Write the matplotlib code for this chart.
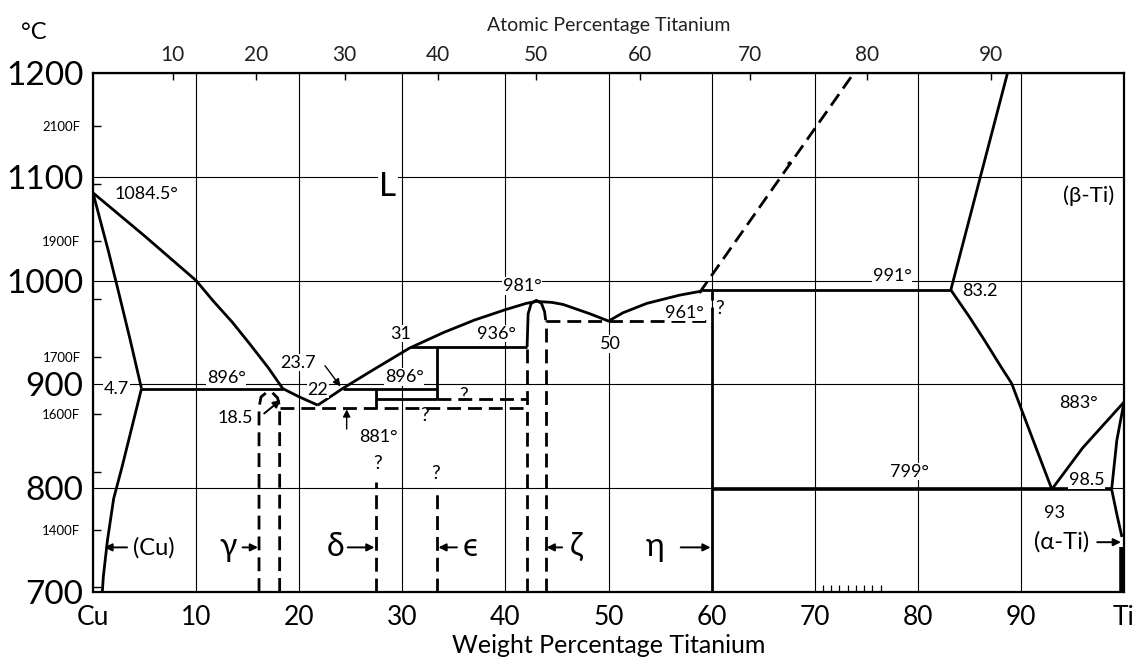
import numpy as np
import matplotlib
matplotlib.use("Agg")
import matplotlib.pyplot as plt

plt.rcParams['font.family'] = ['Lato', 'DejaVu Sans']

# axes ticks
temp_ticks = [700, 800, 900, 1000, 1100, 1200]
f_ticks = [1300, 1400, 1500, 1600, 1700, 1800, 1900, 2000, 2100]
f_labels = ['', '1400F', '', '1600F', '1700F', '', '1900F', '', '2100F']
wt_ticks = [0, 10, 20, 30, 40, 50, 60, 70, 80, 90, 100]
wt_labels = ['Cu', '10', '20', '30', '40', '50', '60', '70', '80', '90', 'Ti']
at_ticks = [10, 20, 30, 40, 50, 60, 70, 80, 90]
small_marks_wt = [70.8, 71.6, 72.4, 73.2, 74.0, 74.8, 75.6, 76.4]

# solid phase boundaries (wt% Ti, deg C)
cu_liq_wt = [0, 5, 10, 11.6, 13.5, 15.2, 17.0, 18.4, 20.0, 21.8]
cu_liq_t = [1084.5, 1043, 1000, 981, 960, 939, 916, 896, 888, 880]
cu_sol_wt = [0, 0.7, 1.5, 2.5, 3.6, 4.7]
cu_sol_t = [1084.5, 1058, 1028, 988, 943, 896]
cu_solvus_wt = [4.7, 3.8, 2.8, 2.0, 1.4, 1.0, 0.9]
cu_solvus_t = [896, 860, 820, 790, 750, 715, 700]
mid_liq_wt = [21.8, 24.2, 27.0, 30.7, 34.0, 37.0, 40.0, 42.0, 43.0, 44.5, 45.6, 48.2, 50.0,
              51.4, 53.7, 56.9, 59.1]
mid_liq_t = [880, 896, 913, 935, 950, 962, 972, 978, 980, 979, 977, 968, 961,
             969, 978, 986, 990]
beta_liq_wt = [83.2, 88.7]
beta_liq_t = [991, 1200]
beta_transus_wt = [83.2, 85.0, 86.5, 88.0, 89.1, 90.2, 91.5, 93.0]
beta_transus_t = [991, 965, 942, 918, 901, 872, 838, 799]
alpha_up_wt = [93.0, 96.0, 100.0]
alpha_up_t = [799, 839, 883]
alpha_solvus_wt = [100.0, 99.3, 98.8, 99.3, 99.8]
alpha_solvus_t = [883, 846, 799, 775, 753]
zeta_arc_wt = [42.1, 42.2, 42.5, 43.0, 43.5, 43.8, 43.9]
zeta_arc_t = [936, 968, 978, 981, 978, 970, 962]

# horizontal / vertical solid segments
seg_896a = ([4.7, 18.4], [896, 896])
seg_896b = ([24.2, 33.4], [896, 896])
seg_936 = ([30.7, 42.1], [936, 936])
seg_886 = ([27.4, 33.4], [886, 886])
seg_delta = ([27.4, 27.4], [877, 896])
seg_eps = ([33.4, 33.4], [886, 936])
seg_991 = ([59.1, 83.2], [991, 991])
seg_799 = ([60.0, 98.8], [799, 799])
seg_eta = ([60.0, 60.0], [700, 961])
seg_ti = ([99.85, 99.85], [700, 743])

# dashed phase boundaries
gamma_wt = [16.1, 16.1, 16.3, 16.8, 17.4, 17.9, 18.1, 18.1]
gamma_t = [700, 878, 888, 892, 892, 887, 878, 700]
dash_877 = ([18.1, 42.1], [877, 877])
dash_886 = ([33.4, 42.1], [886, 886])
dash_961 = ([43.9, 60.0], [961, 961])
dash_eta_top = ([60.0, 60.0], [961, 990])
dash_delta = ([27.4, 27.4], [700, 806])
dash_eps = ([33.4, 33.4], [700, 795])
dash_zeta_l = ([42.1, 42.1], [700, 936])
dash_zeta_r = ([43.9, 43.9], [700, 962])
dash_liq = ([58.8, 73.8], [988, 1200])


def wt2at(w):
    w = np.asarray(w, dtype=float)
    a = w / 47.87
    c = (100 - w) / 63.55
    return 100 * a / (a + c)


def at2wt(a):
    a = np.asarray(a, dtype=float)
    m = a * 47.87
    return 100 * m / (m + (100 - a) * 63.55)


def f2c(f):
    return (np.asarray(f, dtype=float) - 32) * 5 / 9


fig = plt.figure(figsize=(11.43, 6.67), dpi=100)
ax = fig.add_axes([0.0814, 0.1124, 0.902, 0.7782])
ax.set_xlim(0, 100)
ax.set_ylim(700, 1200)

for s in ax.spines.values():
    s.set_linewidth(1.6)

ax.set_xticks(wt_ticks)
ax.set_xticklabels(wt_labels, fontsize=19)
ax.set_yticks(temp_ticks)
ax.set_yticklabels([str(t) for t in temp_ticks], fontsize=24)
ax.tick_params(axis='both', which='major', length=0)
ax.tick_params(axis='x', pad=9)
ax.tick_params(axis='y', pad=7)
ax.set_yticks(f2c(f_ticks), minor=True)
ax.set_yticklabels(f_labels, minor=True, fontsize=9.5)
ax.tick_params(axis='y', which='minor', direction='in', length=6, width=1, pad=9)
ax.grid(True, which='major', color='k', lw=0.8)
ax.set_xlabel('Weight Percentage Titanium', fontsize=18, labelpad=3)

sec = ax.secondary_xaxis('top', functions=(wt2at, at2wt))
sec.set_xticks(at_ticks)
sec.set_xticklabels([str(a) for a in at_ticks], fontsize=15, color='#222222')
sec.tick_params(direction='in', length=5, width=1, pad=6)
sec.set_xlabel('Atomic Percentage Titanium', fontsize=14, labelpad=10, color='#222222')
fig.text(0.018, 0.952, '°C', fontsize=17, ha='left', va='center')

ax.vlines(small_marks_wt, 700, 707, color='k', lw=0.9)

solid = dict(color='k', lw=2.0, solid_capstyle='butt')
ax.plot(cu_liq_wt, cu_liq_t, **solid)
ax.plot(cu_sol_wt, cu_sol_t, **solid)
ax.plot(cu_solvus_wt, cu_solvus_t, **solid)
ax.plot(mid_liq_wt, mid_liq_t, **solid)
ax.plot(beta_liq_wt, beta_liq_t, **solid)
ax.plot(beta_transus_wt, beta_transus_t, **solid)
ax.plot(alpha_up_wt, alpha_up_t, **solid)
ax.plot(alpha_solvus_wt, alpha_solvus_t, **solid)
ax.plot(zeta_arc_wt, zeta_arc_t, **solid)
for xs, ys in [seg_896a, seg_896b, seg_936, seg_886, seg_delta, seg_eps, seg_991, seg_eta]:
    ax.plot(xs, ys, **solid)
ax.plot(*seg_799, color='k', lw=2.6, solid_capstyle='butt')
ax.plot(*seg_ti, color='k', lw=4, solid_capstyle='butt')

dashed = dict(color='k', lw=2.0, dashes=(5, 2.5))
ax.plot(gamma_wt, gamma_t, **dashed)
for xs, ys in [dash_877, dash_886, dash_961, dash_eta_top, dash_delta, dash_eps,
               dash_zeta_l, dash_zeta_r, dash_liq]:
    ax.plot(xs, ys, **dashed)
ax.plot([67.5], [1113], 'k.', ms=4)

# labels on the diagram
fs = 13
labels = [
    ('1084.5°', 5.2, 1083), ('4.7', 2.3, 896), ('896°', 12.9, 906), ('18.5', 13.8, 868),
    ('23.7', 19.9, 921), ('22', 21.8, 895), ('896°', 30.2, 907), ('31', 29.8, 949),
    ('936°', 39.1, 949), ('881°', 27.7, 849), ('981°', 41.6, 995), ('50', 50.2, 939),
    ('961°', 57.4, 969), ('991°', 77.5, 1004), ('83.2', 86.0, 990), ('883°', 95.6, 882),
    ('799°', 79.2, 816), ('98.5', 96.4, 808), ('93', 93.3, 776),
]
for txt, x, y in labels:
    ax.text(x, y, txt, fontsize=fs, ha='center', va='center',
            bbox=dict(facecolor='white', edgecolor='none', pad=0.5))
for x, y in [(35.9, 889), (32.2, 870), (27.6, 824), (33.2, 814), (60.8, 973)]:
    ax.text(x, y, '?', fontsize=14, ha='center', va='center')
ax.text(28.6, 1090, 'L', fontsize=24, ha='center', va='center',
        bbox=dict(facecolor='white', edgecolor='none', pad=1))
ax.text(96.6, 1082, '(β-Ti)', fontsize=16, ha='center', va='center')

arrow = dict(arrowstyle='-|>', color='k', lw=1.4, mutation_scale=11, shrinkA=0, shrinkB=0)
phase_labels = [
    ('(Cu)', 5.9, 743, 3.3, 1.1, 17),
    ('γ', 13.1, 743, 14.5, 16.0, 23),
    ('δ', 23.5, 743, 24.7, 27.3, 23),
    ('ϵ', 36.6, 743, 35.3, 33.5, 23),
    ('ζ', 46.8, 743, 45.5, 44.0, 23),
    ('η', 54.5, 743, 57.0, 59.9, 23),
    ('(α-Ti)', 93.9, 748, 97.4, 99.7, 17),
]
for txt, x, y, x0, x1, size in phase_labels:
    ax.text(x, y, txt, fontsize=size, ha='center', va='center')
    ax.annotate('', xy=(x1, y), xytext=(x0, y), arrowprops=arrow)
ax.annotate('', xy=(18.2, 885), xytext=(16.6, 872), arrowprops=arrow)
ax.annotate('', xy=(24.0, 898), xytext=(22.5, 918), arrowprops=dict(arrow, lw=1.0))
ax.annotate('', xy=(24.6, 876), xytext=(24.6, 857), arrowprops=dict(arrow, lw=1.0))

fig.savefig('out.png', dpi=100)
